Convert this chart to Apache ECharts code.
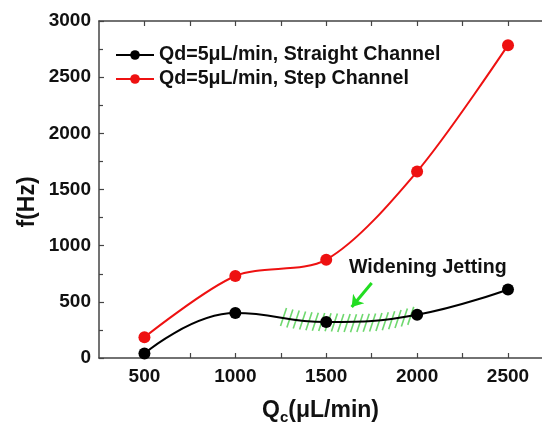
<!DOCTYPE html>
<html><head><meta charset="utf-8">
<script src="https://cdn.jsdelivr.net/npm/echarts@6/dist/echarts.min.js"></script>
<style>html,body{margin:0;padding:0;background:#fff}#c{width:542px;height:425px}</style>
</head><body><div id="c"></div>
<script>
var qc = [500, 1000, 1500, 2000, 2500];
var straight = [40, 400, 320, 385, 610];
var step = [185, 730, 875, 1660, 2785];
var yTicks = [0, 500, 1000, 1500, 2000, 2500, 3000];
var xLabelValues = [500, 1000, 1500, 2000, 2500];
var xTickValues = [500, 750, 1000, 1250, 1500, 1750, 2000, 2250, 2500];
var hatchX = [1265,1300,1335,1370,1405,1440,1475,1510,1545,1580,1615,1650,1685,1720,1755,1790,1825,1860,1895,1930,1965];
var hatchY = [365,352,342,334,328,323,320,318,315,312,311,310,311,313,316,320,327,336,347,360,375];
var arrowFrom = [1750, 668];
var arrowTo = [1640, 454];
var FONT = 'Liberation Sans';

var chart = echarts.init(document.getElementById('c'), null, {renderer: 'canvas'});
var axisColor = '#444';
var hatchData = hatchX.map(function (x, i) { return [x, hatchY[i]]; });
var plain = function (v) { return String(v); };

var xBase = {
  type: 'value', min: 250, max: 2687,
  splitLine: {show: false},
  axisLine: {show: true, onZero: false, lineStyle: {color: axisColor, width: 1.5}},
  axisTick: {show: true, inside: true, length: 5, customValues: xTickValues, lineStyle: {color: axisColor, width: 1.2}}
};

chart.setOption({
  backgroundColor: '#fff',
  animation: false,
  textStyle: {fontFamily: FONT},
  grid: {left: 99, right: 0, top: 21, bottom: 67, containLabel: false, outerBoundsMode: 'none'},
  legend: {
    orient: 'vertical', left: 110, top: 40, itemWidth: 38, itemHeight: 12, itemGap: 4,
    textStyle: {fontFamily: FONT, fontWeight: 'bold', fontSize: 19.6, color: '#111'},
    data: ['Qd=5\u03bcL/min, Straight Channel', 'Qd=5\u03bcL/min, Step Channel']
  },
  xAxis: [Object.assign({}, xBase, {
    position: 'bottom',
    name: '{q|Q}{s|c}{q|(\u03bcL/min)}', nameLocation: 'middle', nameGap: 38,
    nameTextStyle: {rich: {
      q: {fontFamily: FONT, fontWeight: 'bold', fontSize: 23, color: '#111'},
      s: {fontFamily: FONT, fontWeight: 'bold', fontSize: 15, color: '#111', padding: [14, 0, 0, 0]}
    }},
    axisLabel: {customValues: xLabelValues, formatter: plain, fontFamily: FONT, fontWeight: 'bold', fontSize: 19, color: '#111', margin: 9}
  }), Object.assign({}, xBase, {
    position: 'top',
    axisLabel: {show: false}
  })],
  yAxis: {
    type: 'value', min: yTicks[0], max: yTicks[yTicks.length - 1], interval: 500,
    axisLine: {show: true, lineStyle: {color: axisColor, width: 1.5}},
    axisTick: {show: true, inside: true, length: 5, lineStyle: {color: axisColor, width: 1.2}},
    minorTick: {show: true, splitNumber: 2, length: 4, lineStyle: {color: axisColor, width: 1.2}},
    axisLabel: {formatter: plain, fontFamily: FONT, fontWeight: 'bold', fontSize: 19, color: '#111', margin: 8},
    splitLine: {show: false}
  },
  graphic: [{
    type: 'text', x: 28, y: 202, rotation: Math.PI / 2, z: 10,
    style: {text: 'f(Hz)', fontFamily: FONT, fontWeight: 'bold', fontSize: 23, fill: '#111', align: 'center', verticalAlign: 'middle'}
  }, {
    type: 'text', left: 349, top: 258, z: 10,
    style: {text: 'Widening Jetting', fontFamily: FONT, fontWeight: 'bold', fontSize: 19.6, fill: '#111'}
  }],
  series: [{
    name: 'Qd=5\u03bcL/min, Straight Channel', type: 'line', smooth: 0.45,
    data: qc.map(function (x, i) { return [x, straight[i]]; }),
    symbol: 'circle', symbolSize: 12,
    itemStyle: {color: '#000'}, lineStyle: {color: '#000', width: 2}, z: 5
  }, {
    name: 'Qd=5\u03bcL/min, Step Channel', type: 'line', smooth: 0.3,
    data: qc.map(function (x, i) { return [x, step[i]]; }),
    symbol: 'circle', symbolSize: 12,
    itemStyle: {color: '#ee1111'}, lineStyle: {color: '#ee1111', width: 2}, z: 5
  }, {
    type: 'custom', name: 'hatch', data: hatchData, z: 3, silent: true,
    renderItem: function (params, api) {
      var p = api.coord([api.value(0), api.value(1)]);
      return {type: 'line', shape: {x1: p[0] - 3, y1: p[1] + 9, x2: p[0] + 3, y2: p[1] - 9},
        style: {stroke: '#6fd86f', lineWidth: 1.6}};
    }
  }, {
    type: 'lines', coordinateSystem: 'cartesian2d', z: 6, silent: true,
    symbol: ['none', 'arrow'], symbolSize: 11,
    lineStyle: {color: '#22dd22', width: 3, opacity: 1},
    data: [{coords: [arrowFrom, arrowTo]}]
  }]
});
</script>
</body></html>
